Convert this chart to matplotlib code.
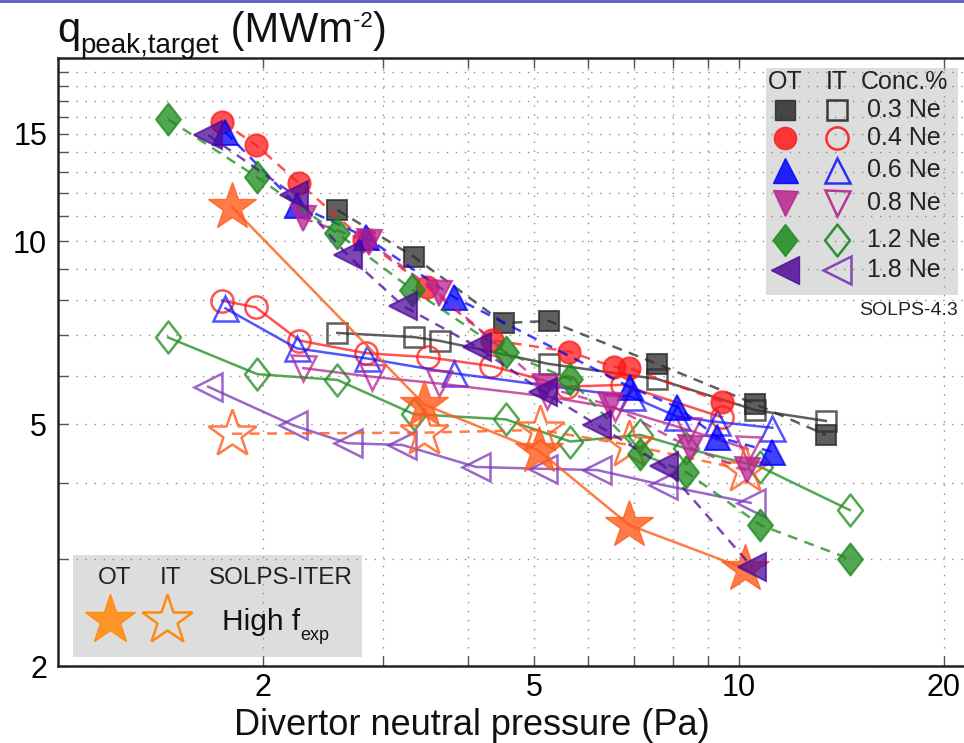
import numpy as np
import matplotlib
matplotlib.use("Agg")
import matplotlib.pyplot as plt
from matplotlib.ticker import FixedLocator, NullFormatter
from matplotlib.patches import Rectangle
from matplotlib.path import Path

plt.rcParams['font.family'] = ['Liberation Sans', 'DejaVu Sans']

# pressao no divertor (Pa) x q_peak no alvo (MW/m2), SOLPS-4.3, OT = alvo externo, IT = interno
p_03_ot = [2.57, 3.33, 4.51, 5.25, 7.58, 10.57, 13.41]
q_03_ot = [11.25, 9.42, 7.33, 7.39, 6.28, 5.39, 4.80]
p_03_it = [2.57, 3.33, 3.64, 5.25, 7.58, 10.57, 13.41]
q_03_it = [7.06, 6.95, 6.85, 6.28, 5.93, 5.27, 5.06]

p_04_ot = [1.74, 1.95, 2.26, 2.81, 3.48, 4.34, 5.62, 6.54, 6.88, 9.44]
q_04_ot = [15.72, 14.39, 12.44, 10.04, 8.41, 6.87, 6.58, 6.21, 6.18, 5.44]
p_04_it = [1.74, 1.95, 2.26, 2.83, 3.49, 4.32, 5.59, 6.74, 9.44]
q_04_it = [7.98, 7.78, 6.86, 6.54, 6.44, 6.23, 5.76, 5.80, 5.13]

p_06_ot = [1.76, 2.24, 2.83, 3.81, 6.92, 8.12, 9.29, 11.19]
q_06_ot = [15.11, 11.46, 10.15, 8.09, 5.75, 5.33, 4.76, 4.50]
p_06_it = [1.76, 2.24, 2.84, 3.81, 6.97, 8.12, 9.29, 11.19]
q_06_it = [7.75, 6.66, 6.41, 6.06, 5.54, 5.14, 5.04, 4.93]

p_08_ot = [2.29, 2.86, 3.62, 5.19, 6.47, 8.48, 10.27]
q_08_ot = [10.90, 9.97, 8.20, 5.75, 5.37, 4.57, 4.20]
p_08_it = [2.29, 2.89, 3.62, 5.22, 6.58, 8.42, 10.29]
q_08_it = [6.18, 5.98, 5.83, 5.55, 5.31, 4.89, 4.55]

p_12_ot = [1.45, 1.96, 2.57, 3.31, 4.54, 5.65, 7.16, 8.36, 10.75, 14.54]
q_12_ot = [15.86, 12.73, 10.30, 8.32, 6.56, 5.92, 4.47, 4.17, 3.41, 3.00]
p_12_it = [1.45, 1.96, 2.57, 3.33, 4.54, 5.65, 7.16, 8.36, 10.75, 14.54]
q_12_it = [6.94, 6.04, 5.91, 5.19, 5.09, 4.68, 4.80, 4.56, 4.25, 3.61]

p_18_ot = [1.66, 2.22, 2.66, 3.21, 4.12, 5.16, 6.19, 7.75, 10.45]
q_18_ot = [14.94, 11.91, 9.48, 7.82, 6.70, 5.65, 4.98, 4.27, 2.91]
p_18_it = [1.66, 2.21, 2.66, 3.20, 4.11, 5.16, 6.19, 7.72, 10.40]
q_18_it = [5.76, 4.98, 4.65, 4.62, 4.25, 4.22, 4.20, 3.97, 3.71]

# SOLPS-ITER, f_exp alto
p_iter_ot = [1.80, 3.45, 5.08, 6.90, 10.22]
q_iter_ot = [11.37, 5.38, 4.52, 3.41, 2.89]
p_iter_it = [1.80, 3.45, 5.10, 6.90, 10.22]
q_iter_it = [4.82, 4.84, 4.89, 4.62, 4.20]

conc = ["0.3 Ne", "0.4 Ne", "0.6 Ne", "0.8 Ne", "1.2 Ne", "1.8 Ne"]
xticks = [2, 5, 10, 20]
yticks = [2, 5, 10, 15]

# losango mais estreito que o 'D'
LOSANGO = Path([(0, 1), (0.78, 0), (0, -1), (-0.78, 0), (0, 1)],
               [Path.MOVETO, Path.LINETO, Path.LINETO, Path.LINETO, Path.CLOSEPOLY])

SERIES = [
    # marcador, ms, cor OT, cor IT, dados
    ("s", 14, "#2a2a2a", "#2a2a2a", p_03_ot, q_03_ot, p_03_it, q_03_it),
    ("o", 16, "#ff1a1a", "#ff1a1a", p_04_ot, q_04_ot, p_04_it, q_04_it),
    ("^", 18, "#0000ff", "#1a1aff", p_06_ot, q_06_ot, p_06_it, q_06_it),
    ("v", 18, "#b8238f", "#b8238f", p_08_ot, q_08_ot, p_08_it, q_08_it),
    (LOSANGO, 23, "#1a8a1a", "#1a8a1a", p_12_ot, q_12_ot, p_12_it, q_12_it),
    ("<", 20, "#4f0a9a", "#7a36b8", p_18_ot, q_18_ot, p_18_it, q_18_it),
]
LARANJA = "#ff5a1a"
TRACO = (0, (4, 3))
W, H = 964, 743

fig = plt.figure(figsize=(W / 100, H / 100), dpi=100)
ax = fig.add_axes([58.3 / W, 77 / H, 905.7 / W, 608 / H])
ax.set_xscale("log"); ax.set_yscale("log")
ax.set_xlim(1.0, 21.4); ax.set_ylim(2, 20)

# IT (linha cheia, vazado) primeiro, depois estrelas, depois OT
for mk, ms, c_ot, c_it, px, qx, pi, qi in SERIES:
    ax.plot(pi, qi, "-", marker=mk, ms=ms, color=c_it, mfc="none", mec=c_it,
            mew=1.8, lw=1.8, alpha=0.75, zorder=3)
ax.plot(p_iter_it, q_iter_it, ls=TRACO, marker="*", ms=36, color=LARANJA, mfc="none",
        mec=LARANJA, mew=1.8, lw=1.8, alpha=0.8, zorder=4)
ax.plot(p_iter_ot, q_iter_ot, "-", marker="*", ms=36, color=LARANJA, mfc=LARANJA,
        mec=LARANJA, lw=1.8, alpha=0.8, zorder=4)
for mk, ms, c_ot, c_it, px, qx, pi, qi in SERIES:
    ax.plot(px, qx, ls=TRACO, marker=mk, ms=ms, color=c_ot, mfc=c_ot, mec=c_ot,
            mew=1.5, lw=1.8, alpha=0.75, zorder=5)

# eixos estilo matlab
ax.xaxis.set_major_locator(FixedLocator(xticks))
ax.xaxis.set_minor_locator(FixedLocator([3, 4, 6, 7, 8, 9]))
ax.set_xticklabels([str(v) for v in xticks])
ax.xaxis.set_minor_formatter(NullFormatter())
ax.yaxis.set_major_locator(FixedLocator(yticks))
ax.yaxis.set_minor_locator(FixedLocator([v for v in range(3, 20) if v not in yticks]))
ax.set_yticklabels([str(v) for v in yticks])
ax.yaxis.set_minor_formatter(NullFormatter())
ax.tick_params(which="both", direction="in", length=7, width=1, color="#555555",
               top=True, right=False, labelsize=22)
ax.tick_params(axis="x", pad=5)
ax.tick_params(axis="y", pad=8)
ax.grid(True, which="both", ls=(0, (1, 5.5)), lw=1.0, color="#8c8c8c")
ax.set_axisbelow(True)
for s in ["left", "bottom", "top"]:
    ax.spines[s].set_linewidth(1.8); ax.spines[s].set_color("#222222")
ax.spines["right"].set_visible(False)

# legenda SOLPS-4.3 (canto superior direito)
ax.add_patch(Rectangle((0.7814, 0.6102), 0.212, 0.3734, transform=ax.transAxes,
                       facecolor="#dddddd", edgecolor="none", zorder=0.2))
ax.text(0.8023, 0.9605, "OT", transform=ax.transAxes, ha="center", va="center", fontsize=18, color="#222222")
ax.text(0.8597, 0.9605, "IT", transform=ax.transAxes, ha="center", va="center", fontsize=18, color="#222222")
ax.text(0.8865, 0.9605, "Conc.%", transform=ax.transAxes, ha="left", va="center", fontsize=18, color="#222222")
ylin = [0.9145, 0.8684, 0.8158, 0.7615, 0.7007, 0.6513]
for (mk, ms, c_ot, c_it, *_), nome, yy in zip(SERIES, conc, ylin):
    ax.plot([0.8023], [yy], marker=mk, ms=ms, color=c_ot, mec=c_ot, alpha=0.85,
            transform=ax.transAxes, clip_on=False, zorder=6)
    ax.plot([0.8597], [yy], marker=mk, ms=ms, mfc="none", mec=c_it, mew=1.8, alpha=0.9,
            transform=ax.transAxes, clip_on=False, zorder=6)
    ax.text(0.8926, yy, nome, transform=ax.transAxes, ha="left", va="center", fontsize=18, color="#222222")
ax.text(0.9934, 0.5855, "SOLPS-4.3", transform=ax.transAxes, ha="right", va="center", fontsize=14, color="#222222")

# legenda SOLPS-ITER (canto inferior esquerdo)
ax.add_patch(Rectangle((0.0162, 0.0148), 0.3191, 0.1678, transform=ax.transAxes,
                       facecolor="#dddddd", edgecolor="none", zorder=0.2))
for xx, txt in [(0.0627, "OT"), (0.1234, "IT"), (0.2459, "SOLPS-ITER")]:
    ax.text(xx, 0.1447, txt, transform=ax.transAxes, ha="center", va="center", fontsize=17.5, color="#222222")
ax.plot([0.0571], [0.0757], marker="*", ms=38, color="#ff9428", mec="#ff8a10",
        transform=ax.transAxes, clip_on=False, zorder=6)
ax.plot([0.1201], [0.0757], marker="*", ms=38, mfc="none", mec="#ff8a10", mew=1.8,
        transform=ax.transAxes, clip_on=False, zorder=6)

# textos compostos (sub/sobrescrito) montados peca por peca, em pixels
rend = fig.canvas.get_renderer()
def texto_seq(x, partes):
    for s, tam, yb in partes:
        t = fig.text(x / W, (H - yb) / H, s, fontsize=tam, va="baseline", color="#111111")
        x = t.get_window_extent(rend).x1
    return x

texto_seq(57, [("q", 30, 42), ("peak,target", 20, 53), (" (MWm", 30, 42),
               ("-2", 16, 27), (")", 30, 42)])
texto_seq(222, [("High f", 21.5, 630), ("exp", 13, 640)])

fig.text(472 / W, 0.011, "Divertor neutral pressure (Pa)", fontsize=26,
         ha="center", va="baseline", color="#111111")
fig.add_artist(Rectangle((0, 1 - 3 / H), 1, 3 / H, transform=fig.transFigure,
                         facecolor="#6464c8", edgecolor="none"))

fig.savefig("out.png", dpi=100)
